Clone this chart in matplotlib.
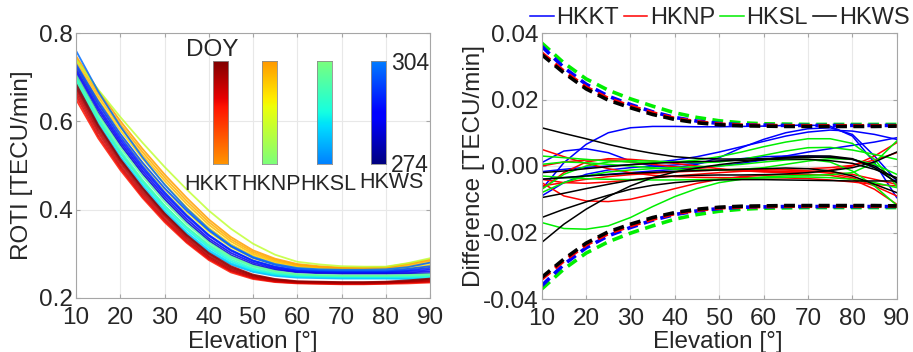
import numpy as np
import matplotlib
matplotlib.use("Agg")
import matplotlib.pyplot as plt
from matplotlib.colors import LinearSegmentedColormap

plt.rcParams['font.family'] = ['Liberation Sans', 'DejaVu Sans']

# ---------------- data ----------------
elev = [10, 15, 20, 25, 30, 35, 40, 45, 50, 55, 60, 65, 70, 75, 80, 85, 90]
stations = ["HKKT", "HKNP", "HKSL", "HKWS"]
doy_hkkt = [290, 294, 296, 298, 300, 302]
doy_hknp = [292, 296, 299, 301, 303, 284]
doy_hksl = [280, 284, 288, 292, 296, 300]
doy_hkws = [282, 286, 290, 294, 298, 302]

roti_hkkt = [
    [0.650, 0.562, 0.490, 0.427, 0.372, 0.325, 0.286, 0.258, 0.243, 0.236, 0.233, 0.232, 0.231, 0.231, 0.232, 0.233, 0.235],
    [0.658, 0.568, 0.495, 0.431, 0.376, 0.328, 0.289, 0.261, 0.245, 0.237, 0.234, 0.233, 0.232, 0.232, 0.233, 0.235, 0.237],
    [0.665, 0.575, 0.500, 0.436, 0.380, 0.332, 0.292, 0.263, 0.247, 0.239, 0.235, 0.234, 0.233, 0.233, 0.234, 0.236, 0.238],
    [0.672, 0.581, 0.506, 0.441, 0.385, 0.336, 0.295, 0.266, 0.249, 0.240, 0.236, 0.235, 0.234, 0.234, 0.235, 0.237, 0.240],
    [0.678, 0.587, 0.511, 0.446, 0.389, 0.340, 0.299, 0.269, 0.251, 0.242, 0.237, 0.236, 0.235, 0.235, 0.236, 0.238, 0.242],
    [0.685, 0.592, 0.515, 0.450, 0.392, 0.343, 0.302, 0.272, 0.253, 0.243, 0.238, 0.237, 0.236, 0.236, 0.237, 0.240, 0.244],
]
roti_hknp = [
    [0.720, 0.640, 0.570, 0.505, 0.447, 0.395, 0.350, 0.315, 0.290, 0.276, 0.268, 0.265, 0.264, 0.264, 0.265, 0.267, 0.270],
    [0.728, 0.649, 0.580, 0.516, 0.458, 0.405, 0.359, 0.322, 0.296, 0.280, 0.271, 0.268, 0.266, 0.266, 0.267, 0.270, 0.275],
    [0.735, 0.656, 0.587, 0.524, 0.466, 0.413, 0.366, 0.328, 0.300, 0.283, 0.273, 0.269, 0.267, 0.267, 0.268, 0.273, 0.280],
    [0.742, 0.663, 0.594, 0.531, 0.473, 0.420, 0.372, 0.333, 0.304, 0.286, 0.275, 0.270, 0.268, 0.268, 0.269, 0.276, 0.284],
    [0.748, 0.670, 0.601, 0.538, 0.480, 0.427, 0.378, 0.338, 0.308, 0.289, 0.277, 0.272, 0.269, 0.269, 0.270, 0.278, 0.287],
    [0.740, 0.672, 0.610, 0.552, 0.497, 0.446, 0.398, 0.357, 0.323, 0.298, 0.282, 0.276, 0.272, 0.271, 0.271, 0.279, 0.290],
]
roti_hksl = [
    [0.680, 0.590, 0.515, 0.450, 0.393, 0.345, 0.305, 0.276, 0.259, 0.250, 0.246, 0.245, 0.244, 0.244, 0.244, 0.243, 0.243],
    [0.688, 0.597, 0.521, 0.456, 0.398, 0.349, 0.309, 0.279, 0.261, 0.252, 0.248, 0.247, 0.246, 0.245, 0.245, 0.245, 0.245],
    [0.695, 0.604, 0.528, 0.462, 0.404, 0.355, 0.314, 0.283, 0.264, 0.254, 0.249, 0.248, 0.247, 0.247, 0.247, 0.247, 0.248],
    [0.700, 0.610, 0.534, 0.468, 0.410, 0.360, 0.318, 0.287, 0.267, 0.256, 0.251, 0.250, 0.249, 0.249, 0.249, 0.249, 0.250],
    [0.692, 0.603, 0.529, 0.465, 0.409, 0.361, 0.321, 0.291, 0.271, 0.259, 0.253, 0.251, 0.250, 0.250, 0.250, 0.251, 0.252],
    [0.705, 0.616, 0.541, 0.476, 0.418, 0.368, 0.326, 0.294, 0.273, 0.261, 0.254, 0.252, 0.251, 0.251, 0.251, 0.252, 0.254],
]
roti_hkws = [
    [0.705, 0.620, 0.547, 0.482, 0.424, 0.373, 0.330, 0.297, 0.276, 0.264, 0.258, 0.256, 0.255, 0.255, 0.255, 0.255, 0.256],
    [0.712, 0.627, 0.553, 0.488, 0.430, 0.379, 0.335, 0.302, 0.280, 0.267, 0.260, 0.258, 0.257, 0.257, 0.257, 0.258, 0.260],
    [0.718, 0.633, 0.559, 0.494, 0.436, 0.385, 0.341, 0.307, 0.284, 0.270, 0.262, 0.260, 0.259, 0.259, 0.259, 0.261, 0.264],
    [0.725, 0.640, 0.565, 0.499, 0.440, 0.388, 0.343, 0.309, 0.285, 0.271, 0.263, 0.261, 0.260, 0.260, 0.260, 0.263, 0.268],
    [0.730, 0.646, 0.572, 0.507, 0.449, 0.398, 0.353, 0.317, 0.291, 0.275, 0.266, 0.263, 0.262, 0.262, 0.262, 0.266, 0.272],
    [0.760, 0.668, 0.589, 0.519, 0.457, 0.403, 0.356, 0.319, 0.293, 0.277, 0.268, 0.265, 0.264, 0.264, 0.265, 0.270, 0.280],
]

# difference curves (right panel)
diff_hkkt = [
    [-0.0070, 0.0010, 0.0065, 0.0100, 0.0115, 0.0119, 0.0119, 0.0118, 0.0118, 0.0119, 0.0120, 0.0122, 0.0123, 0.0120, 0.0090, 0.0010, -0.0095],
    [0.0010, 0.0045, 0.0052, 0.0040, 0.0015, 0.0000, -0.0005, 0.0005, 0.0025, 0.0055, 0.0080, 0.0100, 0.0112, 0.0115, 0.0095, 0.0030, -0.0045],
    [-0.0017, -0.0010, -0.0004, 0.0000, 0.0004, 0.0010, 0.0018, 0.0028, 0.0042, 0.0058, 0.0074, 0.0090, 0.0102, 0.0108, 0.0105, 0.0095, 0.0080],
    [-0.0040, -0.0035, -0.0030, -0.0025, -0.0020, -0.0015, -0.0010, -0.0005, 0.0000, 0.0008, 0.0018, 0.0030, 0.0042, 0.0052, 0.0062, 0.0072, 0.0085],
    [-0.0090, -0.0050, -0.0025, -0.0012, -0.0005, 0.0000, 0.0003, 0.0008, 0.0015, 0.0022, 0.0028, 0.0030, 0.0030, 0.0028, 0.0020, -0.0005, -0.0050],
]
diff_hknp = [
    [0.0050, 0.0028, 0.0008, -0.0008, -0.0020, -0.0028, -0.0032, -0.0034, -0.0035, -0.0035, -0.0035, -0.0036, -0.0038, -0.0042, -0.0048, -0.0055, -0.0060],
    [-0.0050, -0.0090, -0.0105, -0.0107, -0.0100, -0.0085, -0.0068, -0.0052, -0.0040, -0.0032, -0.0028, -0.0026, -0.0025, -0.0028, -0.0040, -0.0070, -0.0115],
    [-0.0070, -0.0020, 0.0012, 0.0022, 0.0020, 0.0015, 0.0008, 0.0000, -0.0008, -0.0014, -0.0018, -0.0020, -0.0018, -0.0012, 0.0000, 0.0030, 0.0070],
    [-0.0060, -0.0050, -0.0040, -0.0032, -0.0026, -0.0022, -0.0018, -0.0015, -0.0012, -0.0010, -0.0010, -0.0012, -0.0015, -0.0022, -0.0035, -0.0060, -0.0090],
    [-0.0040, -0.0050, -0.0052, -0.0048, -0.0042, -0.0036, -0.0030, -0.0025, -0.0020, -0.0016, -0.0013, -0.0010, -0.0008, -0.0005, 0.0002, 0.0018, 0.0040],
    [0.0000, 0.0012, 0.0018, 0.0018, 0.0012, 0.0005, -0.0002, -0.0008, -0.0012, -0.0015, -0.0016, -0.0016, -0.0015, -0.0018, -0.0025, -0.0040, -0.0055],
]
diff_hksl = [
    [-0.0170, -0.0188, -0.0190, -0.0180, -0.0155, -0.0122, -0.0092, -0.0068, -0.0050, -0.0040, -0.0033, -0.0030, -0.0028, -0.0026, -0.0020, 0.0010, 0.0075],
    [0.0030, 0.0025, 0.0020, 0.0015, 0.0012, 0.0010, 0.0012, 0.0018, 0.0028, 0.0042, 0.0058, 0.0072, 0.0082, 0.0082, 0.0068, 0.0020, -0.0060],
    [-0.0070, -0.0025, 0.0000, 0.0012, 0.0016, 0.0015, 0.0012, 0.0010, 0.0012, 0.0020, 0.0032, 0.0045, 0.0055, 0.0056, 0.0048, 0.0035, 0.0020],
    [-0.0080, -0.0050, -0.0030, -0.0018, -0.0012, -0.0008, -0.0005, -0.0002, 0.0000, 0.0005, 0.0012, 0.0018, 0.0020, 0.0012, -0.0015, -0.0060, -0.0118],
    [-0.0030, -0.0035, -0.0038, -0.0040, -0.0041, -0.0042, -0.0042, -0.0041, -0.0040, -0.0038, -0.0036, -0.0034, -0.0033, -0.0035, -0.0040, -0.0050, -0.0065],
    [0.0005, 0.0012, 0.0010, 0.0005, 0.0000, -0.0005, -0.0010, -0.0012, -0.0012, -0.0010, -0.0005, 0.0005, 0.0015, 0.0022, 0.0020, 0.0005, -0.0025],
]
diff_hkws = [
    [0.0115, 0.0098, 0.0082, 0.0065, 0.0050, 0.0038, 0.0028, 0.0023, 0.0021, 0.0021, 0.0022, 0.0024, 0.0026, 0.0026, 0.0020, 0.0000, -0.0040],
    [-0.0230, -0.0175, -0.0130, -0.0092, -0.0060, -0.0035, -0.0018, -0.0006, 0.0004, 0.0012, 0.0020, 0.0026, 0.0030, 0.0030, 0.0022, -0.0005, -0.0050],
    [-0.0155, -0.0130, -0.0108, -0.0088, -0.0070, -0.0058, -0.0050, -0.0045, -0.0042, -0.0041, -0.0041, -0.0042, -0.0043, -0.0044, -0.0045, -0.0045, -0.0045],
    [-0.0095, -0.0082, -0.0068, -0.0055, -0.0043, -0.0035, -0.0030, -0.0028, -0.0027, -0.0027, -0.0026, -0.0024, -0.0020, -0.0014, -0.0005, 0.0012, 0.0042],
    [-0.0040, -0.0035, -0.0030, -0.0026, -0.0022, -0.0019, -0.0016, -0.0014, -0.0012, -0.0010, -0.0008, -0.0006, -0.0008, -0.0015, -0.0030, -0.0055, -0.0080],
    [-0.0020, -0.0015, -0.0008, -0.0002, 0.0004, 0.0008, 0.0011, 0.0013, 0.0015, 0.0017, 0.0019, 0.0021, 0.0020, 0.0016, 0.0008, -0.0010, -0.0035],
]

# threshold (dashed) bounds: +/- per station
bound_hkkt = [0.0360, 0.0296, 0.0246, 0.0210, 0.0185, 0.0163, 0.0146, 0.0135, 0.0128, 0.0124, 0.0123, 0.0122, 0.0122, 0.0122, 0.0122, 0.0122, 0.0122]
bound_hknp = [0.0340, 0.0285, 0.0237, 0.0203, 0.0180, 0.0160, 0.0143, 0.0133, 0.0126, 0.0123, 0.0122, 0.0121, 0.0121, 0.0121, 0.0121, 0.0121, 0.0121]
bound_hksl = [0.0370, 0.0310, 0.0262, 0.0228, 0.0202, 0.0180, 0.0160, 0.0146, 0.0136, 0.0130, 0.0127, 0.0126, 0.0125, 0.0125, 0.0125, 0.0125, 0.0125]
bound_hkws = [0.0335, 0.0280, 0.0232, 0.0198, 0.0175, 0.0155, 0.0140, 0.0130, 0.0124, 0.0121, 0.0120, 0.0119, 0.0119, 0.0119, 0.0119, 0.0119, 0.0120]

# ---------------- styling ----------------
station_jet = {"HKKT": (0.75, 1.0), "HKNP": (0.5, 0.75), "HKSL": (0.25, 0.5), "HKWS": (0.0, 0.25)}
line_colors = {"HKKT": "#0000ff", "HKNP": "#ff0000", "HKSL": "#00ee00", "HKWS": "#000000"}
TXT = "#262626"
SPINE = "#a6a6a6"
GRID = "#e8e8e8"
FS = 17.5
FS_IN = 15.5

jet = matplotlib.colormaps["jet"]

fig = plt.figure(figsize=(9.13, 3.52), dpi=100)
axL = fig.add_axes([76/913, 1-298/352, 354/913, 265/352])
axR = fig.add_axes([541.7/913, 1-299/352, 355/913, 266/352])

def style(ax):
    ax.set_xlim(10, 90)
    ax.set_xticks([10, 20, 30, 40, 50, 60, 70, 80, 90])
    ax.grid(True, color=GRID, linewidth=0.8)
    ax.set_axisbelow(True)
    for s in ax.spines.values():
        s.set_color(SPINE)
        s.set_linewidth(0.8)
    ax.tick_params(direction='in', top=True, right=True, length=3, color=SPINE,
                   labelsize=FS, labelcolor=TXT)
    ax.tick_params(axis='x', pad=6.5)
    ax.tick_params(axis='y', pad=2.5)

# ---------------- left panel ----------------
roti_sets = {"HKKT": roti_hkkt, "HKNP": roti_hknp, "HKSL": roti_hksl, "HKWS": roti_hkws}
doy_sets = {"HKKT": doy_hkkt, "HKNP": doy_hknp, "HKSL": doy_hksl, "HKWS": doy_hkws}
for st in ["HKNP", "HKWS", "HKSL", "HKKT"]:
    lo, hi = station_jet[st]
    for doy, curve in zip(doy_sets[st], roti_sets[st]):
        c = jet(lo + (doy - 274) / 30 * (hi - lo))
        axL.plot(elev, curve, color=c, linewidth=1.3, alpha=0.85)
style(axL)
axL.set_ylim(0.2, 0.8)
axL.set_yticks([0.2, 0.4, 0.6, 0.8])
axL.set_yticklabels(["0.2", "0.4", "0.6", "0.8"])
axL.set_ylabel("ROTI [TECU/min]", fontsize=FS, color=TXT)
axL.yaxis.set_label_coords(-0.121, 0.5)
axL.set_xlabel("Elevation [°]", fontsize=FS, color=TXT, va='baseline')
axL.xaxis.set_label_coords(0.5, -0.189)

# colorbars
cb_lefts = {"HKKT": 213, "HKNP": 262, "HKSL": 317, "HKWS": 371}
grad = np.linspace(0, 1, 256).reshape(-1, 1)
for st in stations:
    lo, hi = station_jet[st]
    cmap = LinearSegmentedColormap.from_list(st, jet(np.linspace(lo, hi, 64)))
    cax = fig.add_axes([cb_lefts[st]/913, 1-164/352, 15/913, 103/352])
    cax.imshow(grad, aspect='auto', cmap=cmap, origin='lower', extent=[0, 1, 274, 304])
    cax.set_xticks([])
    cax.set_yticks([])
    for s in cax.spines.values():
        s.set_color("#8c8c8c")
        s.set_linewidth(0.6)

fig.text(186/913, 1-50/352, "DOY", fontsize=FS, color=TXT, ha='left', va='center')
fig.text(391/913, 1-63/352, "304", fontsize=16.5, color=TXT, ha='left', va='center')
fig.text(391/913, 1-165/352, "274", fontsize=16.5, color=TXT, ha='left', va='center')
label_x = {"HKKT": 213, "HKNP": 271, "HKSL": 328, "HKWS": 391}
label_y = {"HKKT": 185, "HKNP": 185, "HKSL": 185, "HKWS": 182}
for st in stations:
    fig.text(label_x[st]/913, 1-label_y[st]/352, st, fontsize=FS_IN, color=TXT,
             ha='center', va='center')

# ---------------- right panel ----------------
diff_sets = {"HKKT": diff_hkkt, "HKNP": diff_hknp, "HKSL": diff_hksl, "HKWS": diff_hkws}
bound_sets = {"HKKT": bound_hkkt, "HKNP": bound_hknp, "HKSL": bound_hksl, "HKWS": bound_hkws}
handles = []
for st in stations:
    for i, curve in enumerate(diff_sets[st]):
        h, = axR.plot(elev, curve, color=line_colors[st], linewidth=1.1)
        if i == 0:
            handles.append(h)
for st in ["HKSL", "HKKT", "HKNP", "HKWS"]:
    b = np.array(bound_sets[st])
    for sign in (1, -1):
        axR.plot(elev, sign * b, color=line_colors[st], linewidth=2.6,
                 dashes=(3, 1.8), dash_capstyle='butt')
style(axR)
axR.set_ylim(-0.04, 0.04)
axR.set_yticks([-0.04, -0.02, 0.0, 0.02, 0.04])
axR.set_yticklabels(["-0.04", "-0.02", "0.00", "0.02", "0.04"])
axR.set_ylabel("Difference [TECU/min]", fontsize=FS, color=TXT)
axR.yaxis.set_label_coords(-0.16, 0.5)
axR.set_xlabel("Elevation [°]", fontsize=FS, color=TXT, va='baseline')
axR.xaxis.set_label_coords(0.497, -0.184)

fig.legend(handles, stations, loc='center left', bbox_to_anchor=(530/913, 1-18/352),
           ncol=4, frameon=False, fontsize=17, handlelength=1.0, handletextpad=0.12,
           columnspacing=0.2, borderpad=0, borderaxespad=0, labelcolor=TXT)

fig.savefig("out.png", dpi=100)
